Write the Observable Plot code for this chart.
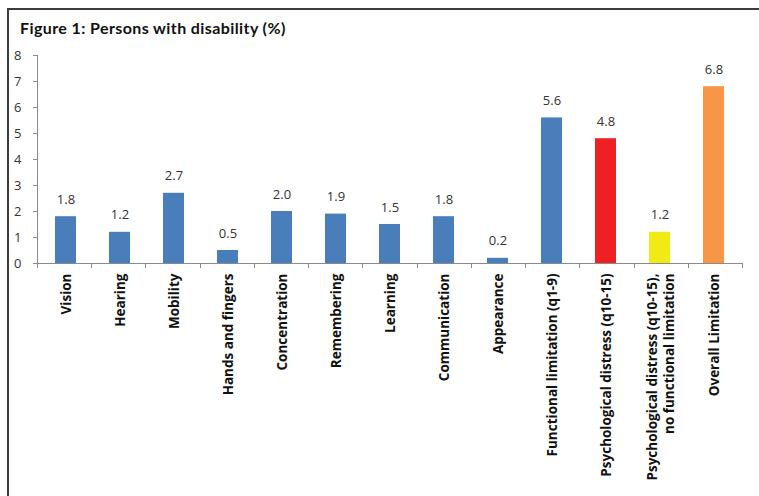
<!DOCTYPE html>
<html>
<head>
<meta charset="utf-8">
<script src="https://cdn.jsdelivr.net/npm/d3@7"></script>
<script src="https://cdn.jsdelivr.net/npm/@observablehq/plot@0.6"></script>
<style>
  html, body { margin: 0; padding: 0; background: #fff; }
  #wrap { position: relative; width: 759px; height: 496px; overflow: hidden; background: #fff; }
  #frame { position: absolute; left: 7px; top: 8px; width: 760px; height: 500px;
           border-top: 2px solid #3c3c3c; border-left: 2px solid #3c3c3c; }
  #title { position: absolute; left: 20px; top: 18px; font-family: Lato, "Open Sans", sans-serif;
           font-weight: bold; font-size: 16px; letter-spacing: 0.4px; color: #111; white-space: nowrap; }
  #chart { position: absolute; left: 0; top: 40px; }
</style>
</head>
<body>
<div id="wrap">
  <div id="frame"></div>
  <div id="title">Figure 1: Persons with disability (%)</div>
  <div id="chart"></div>
</div>
<script>
const categories = [
  "Vision", "Hearing", "Mobility", "Hands and fingers", "Concentration",
  "Remembering", "Learning", "Communication", "Appearance",
  "Functional limitation (q1-9)", "Psychological distress (q10-15)",
  "Psychological distress (q10-15),\nno functional limitation", "Overall Limitation"
];
const values = [1.8, 1.2, 2.7, 0.5, 2.0, 1.9, 1.5, 1.8, 0.2, 5.6, 4.8, 1.2, 6.8];
const barColors = [
  "#4a7ebb", "#4a7ebb", "#4a7ebb", "#4a7ebb", "#4a7ebb", "#4a7ebb", "#4a7ebb",
  "#4a7ebb", "#4a7ebb", "#4a7ebb", "#ee2024", "#f2ea17", "#f79646"
];
const yTicks = [0, 1, 2, 3, 4, 5, 6, 7, 8];

const data = categories.map((c, i) => ({category: c, value: values[i], color: barColors[i]}));
const axisColor = "#8a8a8a";

const plot = Plot.plot({
  width: 759,
  height: 456,
  marginTop: 15,
  marginBottom: 233,
  marginLeft: 37,
  marginRight: 17,
  style: {fontFamily: "'Open Sans', Lato, sans-serif", fontSize: "13px", color: "#222", background: "transparent"},
  x: {domain: categories, paddingInner: 0.61, paddingOuter: 0.305, axis: null},
  y: {domain: [0, 8], axis: null},
  color: {type: "identity"},
  marks: [
    Plot.barY(data, {x: "category", y: "value", fill: "color"}),
    Plot.axisY({ticks: yTicks, tickSize: 4, tickPadding: 12, label: null, stroke: axisColor, fontSize: 13, fill: "#333"}),
    Plot.ruleY([0], {stroke: axisColor}),
    Plot.text(data, {x: "category", y: "value", text: d => d.value.toFixed(1), dy: -13, lineAnchor: "bottom", fontSize: 13, fill: "#333"}),
    Plot.text(data, {x: "category", text: "category", frameAnchor: "bottom", rotate: -90,
      textAnchor: "end", lineAnchor: "middle", dy: 10, fontWeight: "bold", fontSize: 13.5, lineHeight: 1.25, fill: "#111"})
  ]
});

// y axis line and x boundary ticks, from the plot's own scales
const xs = plot.scale("x");
const ys = plot.scale("y");
const svg = d3.select(plot);
const g = svg.append("g").attr("stroke", axisColor).attr("stroke-width", 1);
const [r0, r1] = xs.range;
g.append("line").attr("x1", r0 + 0.5).attr("x2", r0 + 0.5)
  .attr("y1", ys.apply(8)).attr("y2", ys.apply(0));
const step = (r1 - r0) / categories.length;
for (let i = 0; i <= categories.length; i++) {
  const x = Math.round(r0 + i * step) + 0.5;
  g.append("line").attr("x1", x).attr("x2", x).attr("y1", ys.apply(0)).attr("y2", ys.apply(0) + 5);
}
document.getElementById("chart").appendChild(plot);
</script>
</body>
</html>
